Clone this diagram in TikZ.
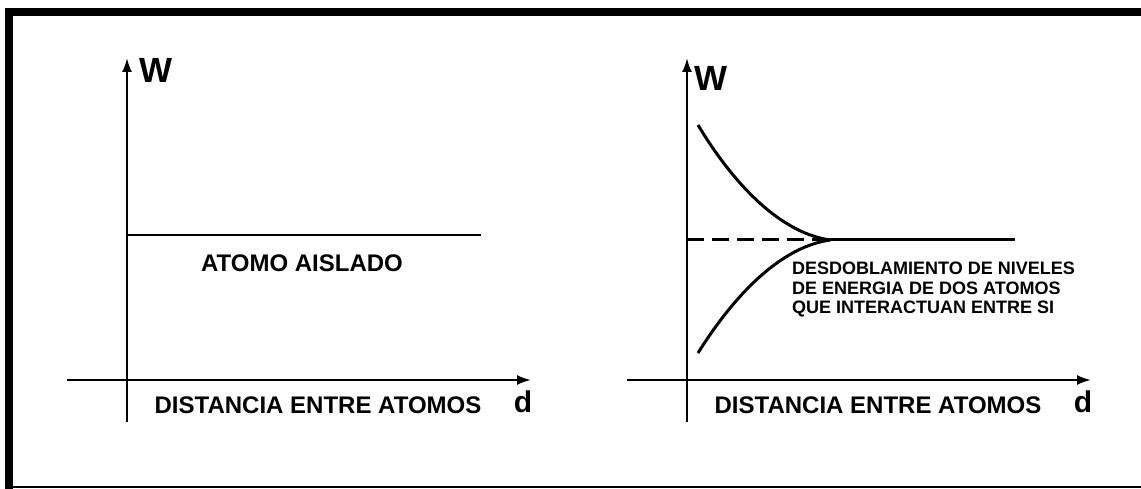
\documentclass[tikz,border=0pt]{standalone}
\usepackage{fontspec}
\setmainfont{Liberation Sans}
\usetikzlibrary{arrows.meta}

\tikzset{
	eje/.style={line width=2pt,-{Latex[length=14pt,width=10pt]}},
	nivel/.style={line width=3pt},
	rotulo/.style={font=\bfseries\fontsize{24}{28}\selectfont,inner sep=0pt},
	rotulochico/.style={font=\bfseries\fontsize{18}{19.5}\selectfont,inner sep=0pt,align=left},
	letrawd/.style={font=\bfseries\fontsize{35}{40}\selectfont,inner sep=0pt},
	letrad/.style={font=\bfseries\fontsize{30}{34}\selectfont,inner sep=0pt}
}

\begin{document}
\begin{tikzpicture}[x=1pt,y=-1pt]
	\useasboundingbox (0,0) rectangle (1141,489);
%%% Marco
	\fill (5,8) rectangle (1141,16) ;
	\fill (5,8) rectangle (13,489) ;
	\draw[line width=2pt] (13,487) -- (1141,487) ;
%%% Ejes de los dos diagramas
	\foreach \s in {0,560}{
		\begin{scope}[xshift=\s]
		\coordinate (yb) at (127,422) ;
		\coordinate (yt) at (127,58) ;
		\coordinate (xl) at (67,380) ;
		\coordinate (xr) at (531,380) ;
		\draw[eje] (yb) -- (yt) ;
		\draw[eje] (xl) -- (xr) ;
		\node[letrad] (d) at (523,402) {d} ;
		\node[rotulo] (dist) at (318,405) {DISTANCIA ENTRE ATOMOS} ;
		\end{scope}
	}
	\node[letrawd] (wa) at (156,70) {W} ;
	\node[letrawd] (wb) at (711,78) {W} ;
%%% Atomo aislado
	\coordinate (na) at (127,235) ;
	\coordinate (nb) at (481,235) ;
	\draw[line width=2pt] (na) -- (nb) ;
	\node[rotulo] (aislado) at (302,263) {ATOMO AISLADO} ;
%%% Desdoblamiento
	\coordinate (da) at (687,240) ;
	\coordinate (dc) at (830,240) ;
	\coordinate (db) at (1015,240) ;
	\coordinate (arriba) at (698,125) ;
	\coordinate (abajo) at (698,353) ;
	\draw[nivel,dash pattern=on 17pt off 8pt] (da) -- (dc) ;
	\draw[nivel] (dc) -- (db) ;
	\draw[nivel] (arriba) .. controls (728,175) and (775,232) .. (dc) ;
	\draw[nivel] (abajo) .. controls (728,305) and (775,248) .. (dc) ;
	\node[rotulochico,anchor=north west] (texto) at (792,262)
		{DESDOBLAMIENTO DE NIVELES\\DE ENERGIA DE DOS ATOMOS\\QUE INTERACTUAN ENTRE SI} ;
\end{tikzpicture}
\end{document}
